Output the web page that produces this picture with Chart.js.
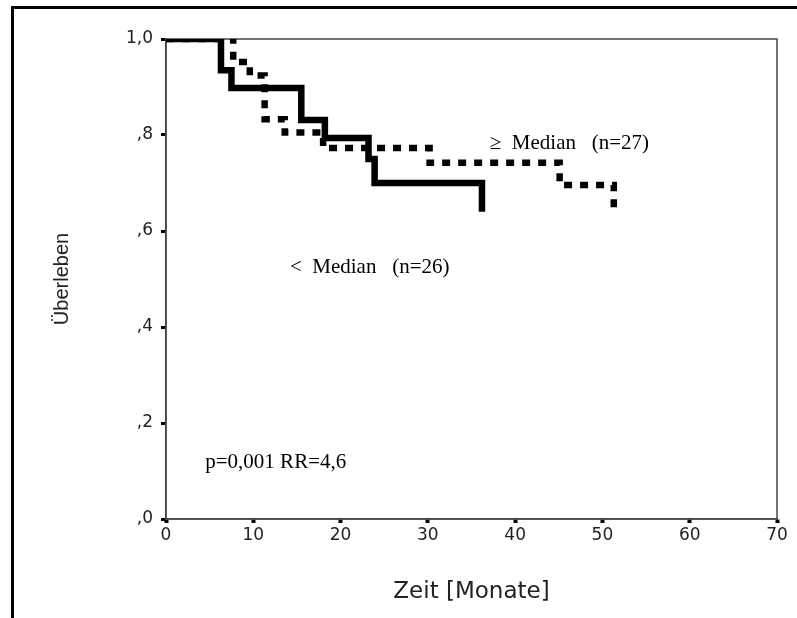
<!DOCTYPE html>
<html>
<head>
<meta charset="utf-8">
<script src="https://cdn.jsdelivr.net/npm/chart.js@4"></script>
<style>
  html, body { margin: 0; padding: 0; background: #fff; }
  #wrap { position: relative; width: 797px; height: 618px; overflow: hidden; }
  #frame { position: absolute; left: 11px; top: 6px; width: 800px; height: 700px;
           border-top: 3px solid #000; border-left: 3px solid #000; box-sizing: border-box; }
  canvas { position: absolute; left: 0; top: 0; }
</style>
</head>
<body>
<div id="wrap">
  <div id="frame"></div>
  <canvas id="km" width="797" height="618"></canvas>
</div>
<script>
// Kaplan-Meier survival, group below the median (n=26)
const timeBelow = [0, 6.3, 7.5, 15.5, 18.2, 23.2, 23.9, 36.2, 36.2];
const survBelow = [1.0, 0.935, 0.898, 0.831, 0.794, 0.75, 0.70, 0.70, 0.64];

// Kaplan-Meier survival, group at or above the median (n=27)
const timeAbove = [0, 7.7, 9.6, 11.3, 13.6, 18.0, 30.2, 45.1, 51.3, 51.3];
const survAbove = [1.0, 0.952, 0.924, 0.833, 0.805, 0.773, 0.742, 0.696, 0.696, 0.644];

const xTicks = [0, 10, 20, 30, 40, 50, 60, 70];
const yTicks = [0, 0.2, 0.4, 0.6, 0.8, 1.0];
const yTickLabels = [',0', ',2', ',4', ',6', ',8', '1,0'];

// Text placed inside the plot: [text, time, survival]
const notes = [
  ['\u2265  Median   (n=27)', 37.1, 0.783],
  ['<  Median   (n=26)', 14.2, 0.523],
  ['p=0,001 RR=4,6', 4.5, 0.117]
];

const toPoints = (xs, ys) => xs.map((x, i) => ({ x, y: ys[i] }));

const frameAndNotes = {
  id: 'frameAndNotes',
  beforeDatasetsDraw(chart) {
    const { ctx, chartArea: a } = chart;
    ctx.save();
    ctx.strokeStyle = '#444';
    ctx.lineWidth = 1.5;
    ctx.strokeRect(a.left, a.top, a.right - a.left, a.bottom - a.top);
    ctx.restore();
  },
  afterDatasetsDraw(chart) {
    const { ctx, scales } = chart;
    ctx.save();
    ctx.fillStyle = '#000';
    ctx.font = '21px "Liberation Serif", "Times New Roman", serif';
    ctx.textBaseline = 'middle';
    ctx.textAlign = 'left';
    notes.forEach(([t, x, y]) => {
      ctx.fillText(t, scales.x.getPixelForValue(x), scales.y.getPixelForValue(y));
    });
    ctx.restore();
  }
};

const tickFont = { family: '"DejaVu Sans", sans-serif', size: 17 };

new Chart(document.getElementById('km'), {
  type: 'line',
  data: {
    datasets: [
      {
        label: '< Median (n=26)',
        data: toPoints(timeBelow, survBelow),
        stepped: 'before',
        borderColor: '#000',
        borderWidth: 6.5,
        borderCapStyle: 'butt',
        borderJoinStyle: 'miter',
        pointRadius: 0,
        fill: false
      },
      {
        label: '\u2265 Median (n=27)',
        data: toPoints(timeAbove, survAbove),
        stepped: 'before',
        borderColor: '#000',
        borderWidth: 6.5,
        borderDash: [8, 8],
        borderCapStyle: 'butt',
        borderJoinStyle: 'miter',
        pointRadius: 0,
        fill: false
      }
    ]
  },
  options: {
    responsive: false,
    animation: false,
    layout: { padding: { left: 0, top: 39, right: 20, bottom: 0 } },
    plugins: { legend: { display: false }, tooltip: { enabled: false } },
    scales: {
      x: {
        type: 'linear',
        min: 0,
        max: 70,
        afterBuildTicks(scale) { scale.ticks = xTicks.map(v => ({ value: v })); },
        afterFit(scale) { scale.height = 99; },
        grid: { drawOnChartArea: false, drawTicks: true, tickLength: 4, tickWidth: 4, tickColor: '#000' },
        border: { display: true, color: '#444', width: 1.5 },
        ticks: { color: '#222', font: tickFont, padding: 2, maxRotation: 0 },
        title: {
          display: true,
          text: 'Zeit [Monate]',
          color: '#222',
          font: { family: '"DejaVu Sans", sans-serif', size: 23 },
          padding: { top: 0, bottom: 12 }
        }
      },
      y: {
        type: 'linear',
        min: 0,
        max: 1,
        afterBuildTicks(scale) { scale.ticks = yTicks.map(v => ({ value: v })); },
        afterFit(scale) { scale.width = 166; },
        grid: { drawOnChartArea: false, drawTicks: true, tickLength: 5, tickWidth: 3, tickColor: '#000' },
        border: { display: true, color: '#444', width: 1.5 },
        ticks: {
          color: '#222',
          font: tickFont,
          padding: 8,
          callback(value) {
            const i = yTicks.findIndex(v => Math.abs(v - value) < 1e-9);
            return i >= 0 ? yTickLabels[i] : '';
          }
        },
        title: {
          display: true,
          text: '\u00dcberleben',
          color: '#222',
          font: { family: '"Liberation Sans Narrow", "Liberation Sans", sans-serif', size: 20 },
          padding: { top: 50, bottom: 0 }
        }
      }
    }
  },
  plugins: [frameAndNotes]
});
</script>
</body>
</html>
